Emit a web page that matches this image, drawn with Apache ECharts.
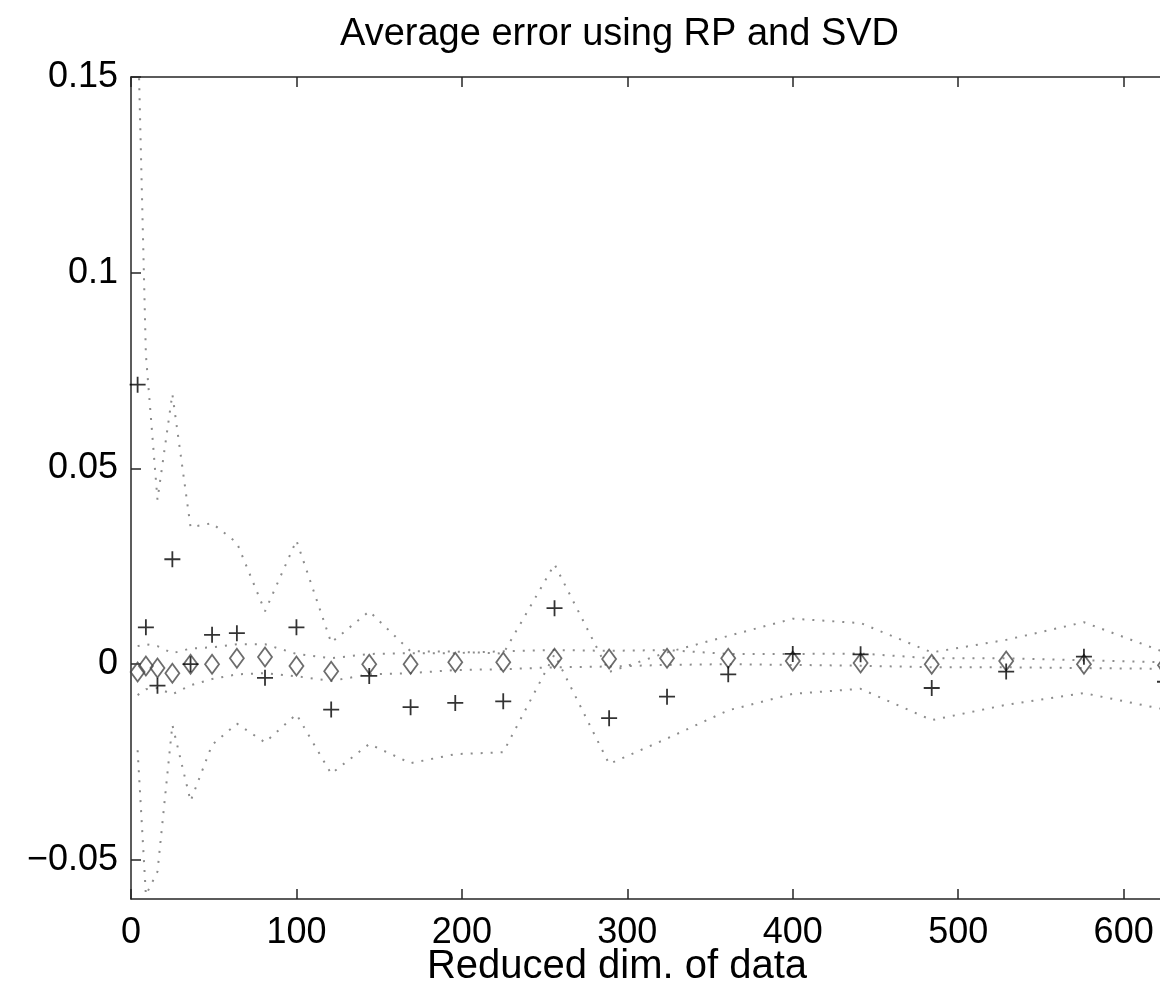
<!DOCTYPE html>
<html>
<head>
<meta charset="utf-8">
<title>Average error using RP and SVD</title>
<script src="https://cdn.jsdelivr.net/npm/echarts@6/dist/echarts.min.js"></script>
<style>
html, body { margin: 0; padding: 0; background: #fff; }
#chart { width: 1160px; height: 993px; }
</style>
</head>
<body>
<div id="chart"></div>
<script>

// reduced dimensions (k = n^2)
var dims = [4, 9, 16, 25, 36, 49, 64, 81, 100, 121, 144, 169, 196, 225, 256, 289, 324, 361, 400, 441, 484, 529, 576, 625];

// RP: mean error (+) and the dotted upper / lower curves
var rpMean  = [0.0714, 0.0094, -0.0055, 0.0268, 0.0, 0.0075, 0.0079, -0.0035, 0.0094, -0.0116, -0.003, -0.011, -0.0099, -0.0095, 0.0143, -0.0138, -0.0083, -0.0026, 0.0026, 0.0025, -0.0061, -0.0019, 0.0019, -0.0045];
var rpUpper = [0.165, 0.079, 0.042, 0.069, 0.035, 0.036, 0.031, 0.0135, 0.0316, 0.0055, 0.0135, 0.0033, 0.0032, 0.0027, 0.0255, -0.002, 0.003, 0.0072, 0.0116, 0.0105, 0.003, 0.0062, 0.0107, 0.003];
var rpLower = [-0.022, -0.059, -0.053, -0.0155, -0.035, -0.0206, -0.0152, -0.02, -0.0128, -0.028, -0.0204, -0.0253, -0.023, -0.0225, 0.0025, -0.0255, -0.019, -0.0118, -0.0076, -0.0063, -0.0143, -0.0104, -0.0074, -0.0116];

// SVD: mean error (diamonds) and its dotted band
var svdMean  = [-0.002, -0.0005, -0.001, -0.0023, 0.0, 0.0, 0.0015, 0.0018, -0.0005, -0.0018, 0.0, 0.0, 0.0005, 0.0005, 0.0015, 0.0013, 0.0015, 0.0015, 0.0008, 0.0003, 0.0, 0.0008, 0.0, -0.0003];
var svdUpper = [0.0046, 0.0051, 0.0046, 0.0028, 0.004, 0.0043, 0.0051, 0.0051, 0.0026, 0.0015, 0.0026, 0.0028, 0.0028, 0.0033, 0.0036, 0.0034, 0.0036, 0.0026, 0.0026, 0.0027, 0.0015, 0.0015, 0.001, 0.0005];
var svdLower = [-0.0079, -0.0064, -0.0061, -0.0077, -0.0054, -0.0038, -0.0026, -0.0023, -0.0031, -0.0043, -0.0026, -0.0023, -0.0015, -0.0013, -0.0008, -0.0006, -0.0002, 0.0, -0.0002, -0.0004, -0.0008, -0.0008, -0.001, -0.0012];


var FONT = "'Liberation Sans', Arial, Helvetica, sans-serif";
var AXIS_COLOR = '#262626';

var myChart = echarts.init(document.getElementById("chart"));

function pairs(ys){
	let out = [];
	for (let i = 0; i < dims.length; i++){
		out.push([dims[i], ys[i]]);
	}
	return out;
}

function dottedLine(name, ys){
	return {
		name: name,
		type: 'line',
		data: pairs(ys),
		showSymbol: false,
		symbol: 'none',
		silent: true,
		clip: true,
		z: 1,
		lineStyle: {
			color: '#8c8c8c',
			width: 2,
			type: [2, 8]
		}
	};
}

function yLabel(v){
	let n = parseFloat(Number(v).toFixed(4));
	if (n < 0) return '\u2212' + Math.abs(n);
	return String(n);
}

var labelStyle = {
	fontFamily: FONT,
	fontSize: 36,
	lineHeight: 36,
	color: '#000'
};

var option = {
	backgroundColor: '#fff',
	animation: false,
	title: {
		text: 'Average error using RP and SVD',
		left: 340,
		top: 16,
		padding: 0,
		textStyle: {
			fontFamily: FONT,
			fontSize: 38,
			lineHeight: 38,
			fontWeight: 'normal',
			color: '#000'
		}
	},
	grid: {
		left: 131,
		top: 77,
		width: 1034,
		height: 822,
		outerBoundsMode: 'none',
		containLabel: false
	},
	xAxis: [
		{
			type: 'value',
			position: 'bottom',
			min: 0,
			max: 625,
			interval: 100,
			name: 'Reduced dim. of data',
			nameLocation: 'middle',
			nameGap: 48,
			nameMoveOverlap: false,
			nameTextStyle: {
				fontFamily: FONT,
				fontSize: 40,
				lineHeight: 40,
				color: '#000',
				padding: [0, 62, 0, 0]
			},
			axisLine: { show: true, onZero: false, lineStyle: { color: AXIS_COLOR, width: 1.5 } },
			axisTick: { show: true, inside: true, length: 10, lineStyle: { color: AXIS_COLOR, width: 1.5 } },
			axisLabel: Object.assign({ margin: 16, showMaxLabel: false }, labelStyle),
			splitLine: { show: false }
		},
		{
			type: 'value',
			position: 'top',
			min: 0,
			max: 625,
			interval: 100,
			axisLine: { show: true, onZero: false, lineStyle: { color: AXIS_COLOR, width: 1.5 } },
			axisTick: { show: true, inside: true, length: 10, lineStyle: { color: AXIS_COLOR, width: 1.5 } },
			axisLabel: { show: false },
			splitLine: { show: false }
		}
	],
	yAxis: {
		type: 'value',
		position: 'left',
		min: -0.06,
		max: 0.15,
		splitNumber: 5,
		axisLine: { show: true, onZero: false, lineStyle: { color: AXIS_COLOR, width: 1.5 } },
		axisTick: { show: true, inside: true, length: 10, lineStyle: { color: AXIS_COLOR, width: 1.5 } },
		axisLabel: Object.assign({ margin: 13, showMinLabel: false, formatter: yLabel }, labelStyle),
		splitLine: { show: false }
	},
	series: [
		dottedLine('RP upper', rpUpper),
		dottedLine('RP lower', rpLower),
		dottedLine('SVD upper', svdUpper),
		dottedLine('SVD lower', svdLower),
		{
			name: 'SVD',
			type: 'scatter',
			data: pairs(svdMean),
			symbol: 'diamond',
			symbolSize: [14, 19],
			z: 3,
			itemStyle: {
				color: 'rgba(0,0,0,0)',
				borderColor: '#474747',
				borderWidth: 1.8
			}
		},
		{
			name: 'RP',
			type: 'scatter',
			data: pairs(rpMean),
			symbol: 'path://M8,0L8,16M0,8L16,8',
			symbolSize: 16,
			z: 4,
			itemStyle: {
				color: 'rgba(0,0,0,0)',
				borderColor: '#000',
				borderWidth: 1.8
			}
		}
	]
};

myChart.setOption(option);

window.addEventListener("resize", function () {
	myChart.resize();
});
</script>
</body>
</html>
